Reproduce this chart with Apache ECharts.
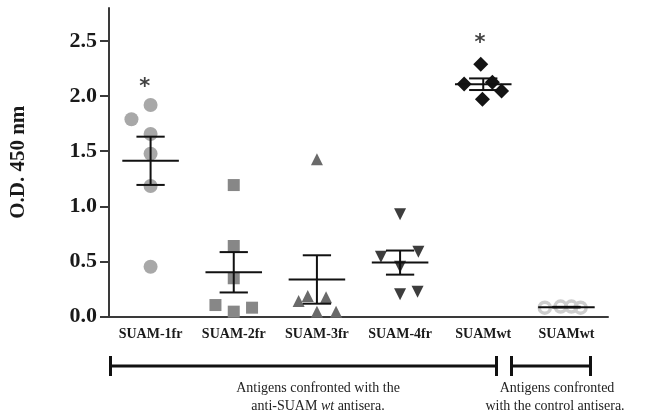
<!DOCTYPE html>
<html><head><meta charset="utf-8">
<script src="https://cdn.jsdelivr.net/npm/echarts@6/dist/echarts.min.js"></script>
<style>html,body{margin:0;padding:0;background:#fff}#c{width:652px;height:415px}</style>
</head><body><div id="c"></div>
<script>
// Categories and tick labels
var categories = ['SUAM-1fr', 'SUAM-2fr', 'SUAM-3fr', 'SUAM-4fr', 'SUAMwt', 'SUAMwt'];
var yTicks = [0, 0.5, 1.0, 1.5, 2.0, 2.5];

// Observed O.D. values (each group) and horizontal jitter (in category widths)
var vals1fr = [1.92, 1.79, 1.656, 1.477, 1.184, 0.452];
var jit1fr  = [0, -0.23, 0, 0, 0, 0];
var vals2fr = [1.193, 0.64, 0.347, 0.104, 0.044, 0.08];
var jit2fr  = [0, 0, 0, -0.22, 0, 0.22];
var vals3fr = [1.427, 0.141, 0.186, 0.174, 0.044, 0.044];
var jit3fr  = [0, -0.22, -0.11, 0.11, 0, 0.23];
var vals4fr = [0.927, 0.543, 0.588, 0.452, 0.201, 0.225];
var jit4fr  = [0, -0.23, 0.22, 0, 0, 0.21];
var valsWt  = [2.289, 2.11, 2.125, 2.046, 1.971];
var jitWt   = [-0.03, -0.23, 0.11, 0.22, -0.01];
var valsCtl = [0.08, 0.09, 0.09, 0.08];
var jitCtl  = [-0.26, -0.07, 0.06, 0.17];

// Significance markers
var starCats = [0, 4];
var starVals = [2.12, 2.52];
var starJit  = [-0.07, -0.04];

var groups = [vals1fr, vals2fr, vals3fr, vals4fr, valsWt, valsCtl];
var jits = [jit1fr, jit2fr, jit3fr, jit4fr, jitWt, jitCtl];
var styles = [
  {symbol: 'circle', size: 14, color: '#a8a8a8'},
  {symbol: 'rect', size: 12, color: '#878787'},
  {symbol: 'triangle', size: 12, color: '#6a6a6a'},
  {symbol: 'triangle', size: 12, color: '#3d3d3d', rotate: 180},
  {symbol: 'diamond', size: 15, color: '#141414'},
  {symbol: 'circle', size: 11, color: '#cdcdcd', border: 3.5}
];

function stats(a) {
  var n = a.length, m = a.reduce(function (s, v) { return s + v; }, 0) / n;
  var ss = a.reduce(function (s, v) { return s + (v - m) * (v - m); }, 0);
  return [m, Math.sqrt(ss / (n - 1)) / Math.sqrt(n)];
}

var series = [];
groups.forEach(function (g, i) {
  var st = styles[i];
  series.push({
    type: 'scatter', xAxisIndex: 1, yAxisIndex: 0,
    symbol: st.symbol, symbolSize: st.size, symbolRotate: st.rotate || 0,
    itemStyle: st.border ? {color: 'rgba(255,255,255,0)', borderColor: st.color, borderWidth: st.border, opacity: 1}
                         : {color: st.color, opacity: 1},
    data: g.map(function (v, k) { return [i + 0.5 + jits[i][k], v]; }),
    z: 2, silent: true
  });
});

var errData = groups.map(function (g, i) { var s = stats(g); return [i + 0.5, s[0], s[1]]; });
series.push({
  type: 'custom', xAxisIndex: 1, yAxisIndex: 0, z: 5, silent: true,
  data: errData,
  renderItem: function (params, api) {
    var x = api.value(0), m = api.value(1), e = api.value(2);
    var lw = 2, st = {stroke: '#111', lineWidth: lw};
    var mL = api.coord([x - 0.34, m]), mR = api.coord([x + 0.34, m]);
    var hi = api.coord([x, m + e]), lo = api.coord([x, m - e]);
    var cL = api.coord([x - 0.17, m + e]), cR = api.coord([x + 0.17, m + e]);
    var dL = api.coord([x - 0.17, m - e]), dR = api.coord([x + 0.17, m - e]);
    return {type: 'group', children: [
      {type: 'line', shape: {x1: mL[0], y1: mL[1], x2: mR[0], y2: mR[1]}, style: st},
      {type: 'line', shape: {x1: hi[0], y1: hi[1], x2: lo[0], y2: lo[1]}, style: st},
      {type: 'line', shape: {x1: cL[0], y1: cL[1], x2: cR[0], y2: cR[1]}, style: st},
      {type: 'line', shape: {x1: dL[0], y1: dL[1], x2: dR[0], y2: dR[1]}, style: st}
    ]};
  }
});
series.push({
  type: 'scatter', xAxisIndex: 1, yAxisIndex: 0, symbolSize: 2, silent: true, z: 6,
  itemStyle: {color: 'rgba(0,0,0,0)'},
  label: {show: true, position: 'inside', formatter: '*', color: '#111',
          fontFamily: 'DejaVu Sans', fontSize: 21, fontWeight: 'bold', offset: [0, 5]},
  data: starCats.map(function (c, k) { return [c + 0.5 + starJit[k], starVals[k]]; })
});

var serif = '"Liberation Serif", "Times New Roman", serif';
var chart = echarts.init(document.getElementById('c'));
chart.setOption({
  animation: false,
  backgroundColor: '#fff',
  grid: {left: 108, right: 44, top: 8, bottom: 98.5, containLabel: false},
  xAxis: [{
    type: 'category', data: categories, boundaryGap: true,
    axisLine: {lineStyle: {color: '#3a3a3a', width: 2}},
    axisTick: {alignWithLabel: true, length: 9, lineStyle: {color: '#3a3a3a', width: 2}},
    axisLabel: {color: '#1a1a1a', fontFamily: serif, fontWeight: 'bold', fontSize: 14, margin: 11}
  }, {
    type: 'value', min: 0, max: 6, show: false
  }],
  yAxis: [{
    type: 'value', min: 0, max: 2.8,
    name: 'O.D. 450 nm', nameLocation: 'middle', nameGap: 80, nameRotate: 90,
    nameTextStyle: {color: '#1a1a1a', fontFamily: serif, fontWeight: 'bold', fontSize: 21},
    splitLine: {show: false},
    axisLine: {show: true, lineStyle: {color: '#3a3a3a', width: 2}},
    axisTick: {show: true, length: 9, customValues: yTicks, lineStyle: {color: '#3a3a3a', width: 2}},
    axisLabel: {customValues: yTicks, formatter: function (v) { return v.toFixed(1); },
                color: '#1a1a1a', fontFamily: serif, fontWeight: 'bold', fontSize: 22, margin: 12}
  }],
  graphic: [
    {type: 'line', shape: {x1: 110, y1: 366, x2: 497, y2: 366}, style: {stroke: '#111', lineWidth: 3}},
    {type: 'line', shape: {x1: 110.5, y1: 356, x2: 110.5, y2: 376}, style: {stroke: '#111', lineWidth: 3}},
    {type: 'line', shape: {x1: 496.5, y1: 356, x2: 496.5, y2: 376}, style: {stroke: '#111', lineWidth: 3}},
    {type: 'line', shape: {x1: 511, y1: 366, x2: 591, y2: 366}, style: {stroke: '#111', lineWidth: 3}},
    {type: 'line', shape: {x1: 511.5, y1: 356, x2: 511.5, y2: 376}, style: {stroke: '#111', lineWidth: 3}},
    {type: 'line', shape: {x1: 590.5, y1: 356, x2: 590.5, y2: 376}, style: {stroke: '#111', lineWidth: 3}},
    {type: 'text', x: 318, y: 388, style: {text: 'Antigens confronted with the', font: '14px ' + serif, fill: '#222', align: 'center', verticalAlign: 'middle'}},
    {type: 'text', x: 318, y: 406, style: {
      text: '{a|anti-SUAM }{i|wt}{a| antisera.}', align: 'center', verticalAlign: 'middle',
      rich: {a: {font: '14px ' + serif, fill: '#222'}, i: {font: 'italic 14px ' + serif, fill: '#222'}}}},
    {type: 'text', x: 557, y: 388, style: {text: 'Antigens confronted', font: '14px ' + serif, fill: '#222', align: 'center', verticalAlign: 'middle'}},
    {type: 'text', x: 555, y: 406, style: {text: 'with the control antisera.', font: '14px ' + serif, fill: '#222', align: 'center', verticalAlign: 'middle'}}
  ],
  series: series
});
</script></body></html>
